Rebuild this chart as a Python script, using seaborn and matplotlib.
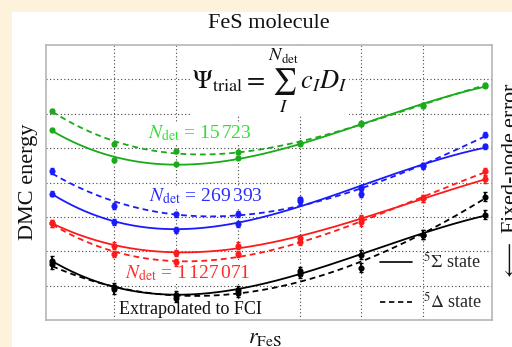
import numpy as np
import pandas as pd
import matplotlib
matplotlib.use("Agg")
import matplotlib.pyplot as plt
import seaborn as sns
from matplotlib.lines import Line2D
from matplotlib.patches import Rectangle

# ---- data ----
r_points = [0, 1, 2, 3, 4, 5, 6, 7]
green_sigma = [5.54, 4.66, 4.54, 4.72, 5.13, 5.70, 6.23, 6.82]
green_delta = [6.09, 5.12, 4.92, 4.88, 5.15, 5.72, 6.25, 6.84]
blue_sigma = [3.68, 2.85, 2.62, 2.79, 3.45, 3.85, 4.47, 5.05]
blue_delta = [4.33, 3.31, 3.07, 3.08, 3.51, 3.66, 4.50, 5.39]
red_sigma = [2.82, 2.16, 1.95, 2.16, 2.38, 2.96, 3.54, 4.09]
red_delta = [2.82, 1.92, 1.68, 1.92, 2.28, 2.84, 3.54, 4.33]
black_sigma = [1.72, 0.96, 0.72, 0.87, 1.42, 1.90, 2.48, 3.06]
black_delta = [1.62, 0.89, 0.65, 0.80, 1.35, 1.52, 2.48, 3.59]
errors = {"green": 0.05, "blue": 0.08, "red": 0.10, "black": 0.13}

series_labels = {
    "green": r"$N_{\mathrm{det}}$ = 15$\,$723",
    "blue": r"$N_{\mathrm{det}}$ = 269$\,$393",
    "red": r"$N_{\mathrm{det}}$ = 1$\,$127$\,$071",
    "black": "Extrapolated to FCI",
}
legend_labels = [r"$^5\Sigma$ state", r"$^5\Delta$ state"]
title = "FeS molecule"
ylabel = "DMC energy"
xlabel = r"$r_{\mathrm{FeS}}$"
right_label = r"$\longleftarrow$ Fixed-node error"
formula = r"$\Psi_{\mathrm{trial}} = \sum_{I}^{N_{\mathrm{det}}}\, c_I D_I$"

line_colors = {"green": "#1aaa1a", "blue": "#1a1aff", "red": "#ff1a1a", "black": "#000000"}
text_colors = {"green": "#33dd33", "blue": "#2a2aff", "red": "#ff2a2a", "black": "#111111"}

data = {
    ("green", "sigma"): green_sigma, ("green", "delta"): green_delta,
    ("blue", "sigma"): blue_sigma, ("blue", "delta"): blue_delta,
    ("red", "sigma"): red_sigma, ("red", "delta"): red_delta,
    ("black", "sigma"): black_sigma, ("black", "delta"): black_delta,
}

rows = []
for (col, st), vals in data.items():
    for x, v in zip(r_points, vals):
        rows.append({"r": x, "E": v, "series": col, "state": st, "err": errors[col]})
df = pd.DataFrame(rows)

# fitted curves (cubic fit of each series)
fit_rows = []
xf = np.linspace(min(r_points), max(r_points), 200)
for (col, st), vals in data.items():
    p = np.polyfit(r_points, vals, 3)
    for x, y in zip(xf, np.polyval(p, xf)):
        fit_rows.append({"r": x, "E": y, "series": col, "state": st})
fit = pd.DataFrame(fit_rows)

# ---- style ----
sns.set_theme(style="white")
plt.rcParams["font.family"] = ["Liberation Serif", "DejaVu Serif"]
plt.rcParams["mathtext.fontset"] = "stix"

W, H = 512, 347
fig = plt.figure(figsize=(W / 100, H / 100), dpi=100)
fig.patch.set_facecolor("#fdf3dc")
fig.patches.append(Rectangle((12 / W, 0), 1, 1 - 12 / H, transform=fig.transFigure,
                             facecolor="white", edgecolor="none", zorder=-10))

ax = fig.add_axes([46 / W, 1 - 320 / H, 446 / W, 275 / H])
ax.set_zorder(1)
ax.set_facecolor("none")

for (col, st) in data.keys():
    sub = fit[(fit.series == col) & (fit.state == st)]
    sns.lineplot(data=sub, x="r", y="E", ax=ax, color=line_colors[col],
                 linewidth=1.3, linestyle="-" if st == "sigma" else (0, (3.2, 2.2)),
                 zorder=3, legend=False)
    pts = df[(df.series == col) & (df.state == st)]
    ax.errorbar(pts.r, pts.E, yerr=pts.err, fmt="o", color=line_colors[col],
                markersize=3.4, elinewidth=1.3, capsize=1.2, capthick=1.0, zorder=4)

ax.set_xlim(-0.1, 7.11)
ax.set_ylim(0, 8)
ax.set_xticks([1, 2, 3, 4, 5, 6])
ax.set_yticks([1, 2, 3, 4, 5, 6, 7])
ax.set_xticklabels([])
ax.set_yticklabels([])
ax.tick_params(length=0)
ax.grid(True, linestyle=(0, (1, 2.2)), color="#444444", linewidth=0.8, zorder=0)
ax.set_axisbelow(True)
for s in ax.spines.values():
    s.set_color("#b5b5b5")
    s.set_linewidth(1.2)
ax.set_xlabel("")
ax.set_ylabel("")

# labels inside plot
box = dict(facecolor="white", edgecolor="none", pad=0.5)
ax.text(3.52, 6.95, formula, fontsize=19, ha="center", va="center", color="#111111",
        bbox=box, zorder=2)
ax.text(2.39, 5.45, series_labels["green"], fontsize=14, ha="center", va="center",
        color=text_colors["green"], bbox=box, zorder=2)
ax.text(2.48, 3.60, series_labels["blue"], fontsize=14, ha="center", va="center",
        color=text_colors["blue"], bbox=box, zorder=2)
ax.text(2.19, 1.37, series_labels["red"], fontsize=14, ha="center", va="center",
        color=text_colors["red"], bbox=box, zorder=2)
ax.text(2.24, 0.30, series_labels["black"], fontsize=13, ha="center", va="center",
        color=text_colors["black"], bbox=box, zorder=2)

handles = [Line2D([], [], color="black", linewidth=1.2, linestyle="-"),
           Line2D([], [], color="black", linewidth=1.2, linestyle=(0, (3.2, 2.2)))]
ax.legend(handles, legend_labels, loc="lower right", frameon=False, fontsize=13,
          handlelength=1.8, handletextpad=0.6, labelspacing=1.1,
          bbox_to_anchor=(1.015, -0.03))

fig.text(269 / W, 1 - 24 / H, title, fontsize=16, ha="center", va="center", color="#111111")
fig.text(28 / W, 1 - 182 / H, ylabel, fontsize=16, ha="center", va="center",
         rotation=90, color="#111111")
fig.text(265 / W, 1 - 329 / H, xlabel, fontsize=16, ha="center", va="top", color="#111111")
fig.text(502 / W, 1 - 182 / H, right_label, fontsize=16, ha="left", va="center",
         rotation=90, color="#111111")

fig.savefig("out.png", dpi=100, facecolor=fig.get_facecolor())
